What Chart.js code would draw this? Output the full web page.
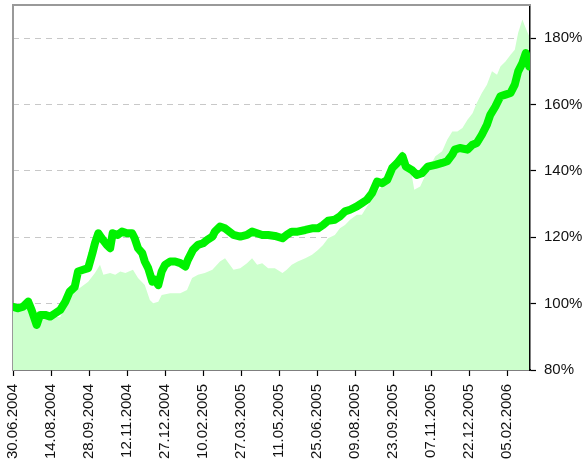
<!DOCTYPE html>
<html>
<head>
<title>Performance</title>
<style>
body { margin: 0; background: #fff; }
#wrap { width: 584px; height: 463px; }
</style>
<script src="https://cdn.jsdelivr.net/npm/chart.js@4"></script>
</head>
<body>
<div id="wrap"><canvas id="chartDiv"></canvas></div>

<script>
// day offsets from 30.06.2004, values in %
var tickDays   = [0,45,90,135,180,225,270,315,360,405,450,495,540,585];
var tickLabels = ['30.06.2004','14.08.2004','28.09.2004','12.11.2004','27.12.2004','10.02.2005',
                  '27.03.2005','11.05.2005','25.06.2005','09.08.2005','23.09.2005','07.11.2005',
                  '22.12.2005','05.02.2006'];
var yTicks = [80,100,120,140,160,180];

// fund (thick green line)
var fundDays = [0,6,12,18,22,28,32,38,44,50,56,62,67,73,77,83,89,94,97,101,105,111,115,118,124,129,
                135,141,144,148,153,156,160,165,168,172,176,180,186,192,198,204,207,213,219,225,230,236,
                239,245,251,261,269,277,283,289,295,302,310,319,324,330,337,346,354,361,367,373,381,387,
                393,399,407,413,419,425,431,437,443,449,455,461,465,472,478,484,491,500,508,514,520,523,
                529,538,544,549,555,561,565,571,577,583,589,594,598,603,607,611];
var fundVals = [99.0,98.6,99.1,100.6,98.1,93.6,96.6,96.6,96.1,97.1,98.1,100.6,103.6,105.0,109.7,110.2,
                110.7,115.2,118.2,121.2,119.7,117.7,116.7,121.2,120.7,121.7,121.2,121.2,119.7,116.7,115.2,
                112.7,110.7,106.6,107.2,105.6,109.7,111.7,112.7,112.7,112.2,111.2,113.2,116.2,117.7,118.2,
                119.2,120.2,121.7,123.2,122.7,120.7,120.2,120.7,121.7,121.2,120.7,120.7,120.4,119.7,120.7,
                121.7,121.7,122.2,122.7,122.7,123.7,125.0,125.3,126.3,127.8,128.3,129.3,130.3,131.3,133.3,
                136.8,136.3,137.3,140.9,142.4,144.4,141.3,140.3,138.8,139.3,141.3,141.8,142.4,142.9,144.9,
                146.4,146.9,146.4,147.9,148.4,150.9,153.9,156.9,159.4,162.5,163.0,163.5,166.0,170.0,172.5,
                175.5,171.5];

// benchmark (light green area)
var benchDays = [0,8,18,22,28,38,50,56,62,67,79,89,97,103,107,115,121,127,133,142,148,156,162,166,172,
                 176,186,198,206,212,219,227,236,245,251,261,269,277,283,289,295,302,310,319,324,330,337,
                 346,354,361,367,373,381,387,393,399,407,413,419,425,431,437,443,449,455,461,465,472,475,
                 482,491,500,508,514,520,526,532,538,544,549,555,561,567,573,577,583,589,594,598,603,606,611];
var benchVals = [98.0,99.0,100.0,97.0,94.5,95.5,96.0,96.0,99.5,102.6,104.7,106.6,109.2,111.7,108.7,109.2,
                 108.7,109.7,109.2,110.2,107.7,105.6,101.1,100.1,100.6,102.6,103.1,103.1,104.1,107.7,108.7,
                 109.2,110.2,112.7,113.7,110.2,110.7,112.2,113.7,111.7,112.2,110.7,110.7,109.2,110.2,111.7,
                 112.7,113.7,114.7,116.2,117.7,119.7,120.7,122.7,123.7,125.3,126.8,126.8,129.3,131.3,133.8,
                 135.3,136.8,140.3,142.4,146.4,141.3,138.8,134.3,135.3,140.3,144.4,145.9,149.4,151.9,151.9,
                 152.9,155.4,157.4,160.5,163.5,166.0,170.0,169.0,171.5,173.0,175.0,176.5,181.6,185.6,183.6,180.6];

function toPoints(days, vals) {
  return days.map(function (d, i) { return {x: d, y: vals[i]}; });
}

// drop the label overhang padding so the plot fills the canvas like the original
function noPad(s) {
  s.paddingTop = 0; s.paddingBottom = 0; s.paddingLeft = 0; s.paddingRight = 0;
}

var labelFont = {family: "'Liberation Sans', Arial, sans-serif", size: 15};

new Chart("chartDiv", {
  type: "line",
  data: {
    datasets: [{
      data: toPoints(fundDays, fundVals),
      borderColor: "#00f200",
      borderWidth: 8,
      borderJoinStyle: "round",
      borderCapStyle: "round",
      pointRadius: 0,
      fill: false,
      order: 0
    }, {
      data: toPoints(benchDays, benchVals),
      borderWidth: 0,
      backgroundColor: "#ccffcc",
      pointRadius: 0,
      fill: "start",
      order: 1
    }]
  },
  options: {
    responsive: true,
    maintainAspectRatio: false,
    animation: false,
    layout: {padding: {left: 13, top: 5, right: 0, bottom: 0}},
    plugins: {legend: {display: false}, tooltip: {enabled: false}},
    scales: {
      x: {
        type: "linear",
        position: "bottom",
        min: 0,
        max: 612,
        afterBuildTicks: function (s) { s.ticks = tickDays.map(function (v) { return {value: v}; }); },
        afterFit: function (s) { s.height = 93; noPad(s); },
        ticks: {
          autoSkip: false,
          minRotation: 90,
          maxRotation: 90,
          padding: 8,
          color: "#111",
          font: labelFont,
          callback: function (v, i) { return tickLabels[i]; }
        },
        grid: {drawOnChartArea: false, tickLength: 6, tickColor: "#000", tickWidth: 1.2},
        border: {color: "#000", width: 1.5}
      },
      y: {
        type: "linear",
        position: "right",
        min: 80,
        max: 190,
        afterBuildTicks: function (s) { s.ticks = yTicks.map(function (v) { return {value: v}; }); },
        afterFit: function (s) { s.width = 54; noPad(s); },
        ticks: {
          padding: 8,
          color: "#111",
          font: labelFont,
          callback: function (v) { return v + "%"; }
        },
        grid: {
          color: function (c) { return c.tick && c.tick.value === 80 ? "rgba(0,0,0,0)" : "#c8c8c8"; },
          lineWidth: 1,
          tickLength: 6,
          tickColor: "#000",
          tickWidth: 1.2,
          tickBorderDash: []
        },
        border: {color: "#000", width: 1.5, dash: [6, 5]}
      },
      xTop: {
        type: "linear",
        position: "top",
        afterFit: function (s) { s.height = 0; noPad(s); },
        ticks: {display: false},
        grid: {display: false, drawTicks: false},
        border: {color: "#999", width: 2}
      },
      yLeft: {
        type: "linear",
        position: "left",
        afterFit: function (s) { s.width = 0; noPad(s); },
        ticks: {display: false},
        grid: {display: false, drawTicks: false},
        border: {color: "#999", width: 2}
      }
    }
  }
});
</script>
</body>
</html>
